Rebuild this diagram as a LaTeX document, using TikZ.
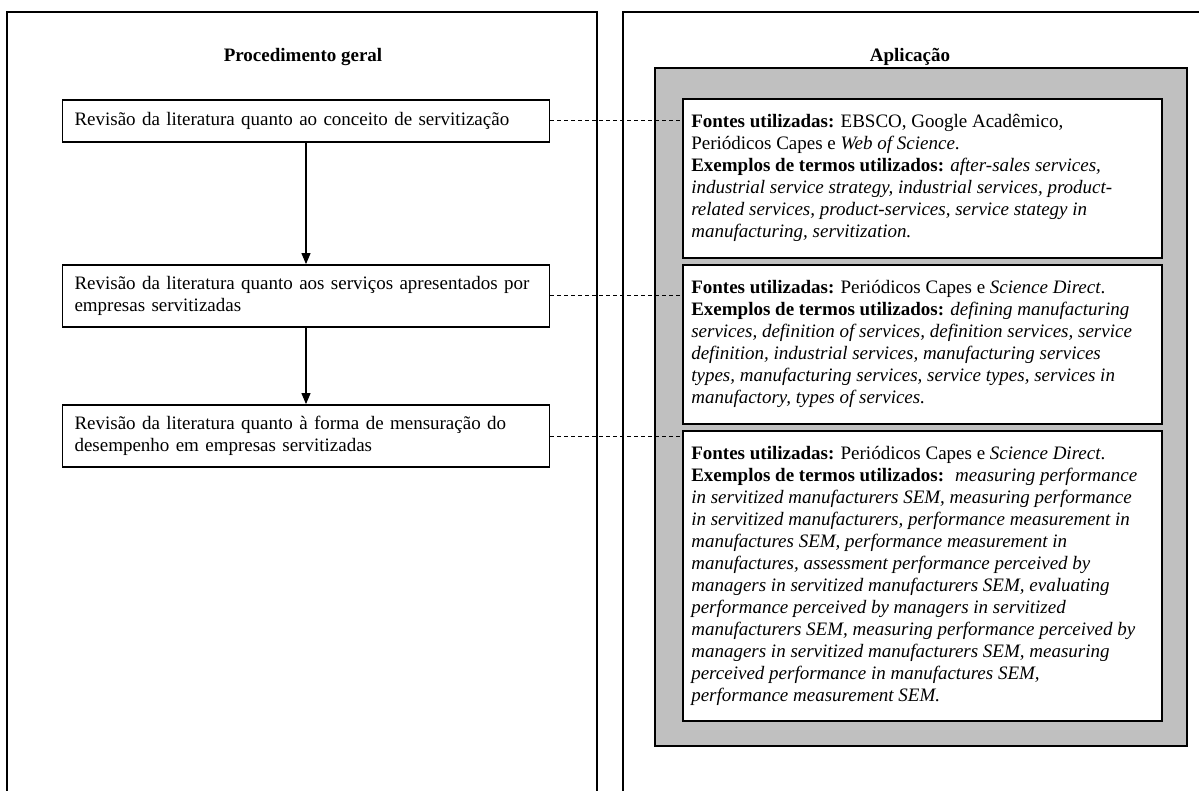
\documentclass[tikz,border=0pt]{standalone}
\usepackage{fontspec}
\setmainfont{Liberation Serif}
\usetikzlibrary{arrows.meta}
\definecolor{grayfill}{HTML}{C0C0C0}
\begin{document}
\begin{tikzpicture}[x=1pt,y=-1pt,
  font=\fontsize{19}{22}\selectfont,
  frameline/.style={line width=2.2pt},
  title/.style={font=\fontsize{19}{22}\selectfont\bfseries, inner sep=0pt},
  lbox/.style={draw, line width=1.8pt, minimum width=487pt, text width=463pt,
               align=left, inner xsep=12pt, inner ysep=0pt},
  wbox/.style={draw, line width=1.8pt, fill=white, minimum width=479pt, inner sep=0pt},
  wtext/.style={anchor=north west, inner sep=0pt, align=left},
  flow/.style={line width=1.1pt, -{Triangle[length=11pt,width=9pt]}},
  link/.style={line width=1pt, dash pattern=on 4pt off 3pt}]
\useasboundingbox (0,0) rectangle (1199,791);
\clip (0,0) rectangle (1199,791);

% outer frames (open at the bottom)
\draw[frameline] (7,800) -- (7,12) -- (597,12) -- (597,800);
\draw[frameline] (623,800) -- (623,12) -- (1210,12);

% titles
\node[title] (tl) at (303,57) {Procedimento geral};
\node[title] (tr) at (910,57) {Aplicação};

% left procedure boxes
\node[lbox, minimum height=42pt] (l1) at (306,121)
  {Revisão da literatura quanto ao conceito de servitização};
\node[lbox, minimum height=62pt] (l2) at (306,296)
  {Revisão da literatura quanto aos serviços apresentados por\\empresas servitizadas};
\node[lbox, minimum height=62pt] (l3) at (306,436)
  {Revisão da literatura quanto à forma de mensuração do\\desempenho em empresas servitizadas};

\draw[flow] (l1.south) -- (l2.north);
\draw[flow] (l2.south) -- (l3.north);

% gray container
\draw[line width=1.8pt, fill=grayfill] (655,68) rectangle (1187,746);

% white boxes
\node[wbox, minimum height=159pt] (wA) at (922.5,178.5) {};
\node[wbox, minimum height=159pt] (wB) at (922.5,344.5) {};
\node[wbox, minimum height=290pt] (wC) at (922.5,576) {};

\node[wtext] (tA) at ([xshift=9pt,yshift=-14pt]wA.north west) {\rule{0pt}{15pt}%
\textbf{Fontes utilizadas:} EBSCO, Google Acadêmico,\\
Periódicos Capes e \textit{Web of Science}.\\
\textbf{Exemplos de termos utilizados:} \textit{after-sales services,}\\
\textit{industrial service strategy, industrial services, product-}\\
\textit{related services, product-services, service stategy in}\\
\textit{manufacturing, servitization.}};

\node[wtext] (tB) at ([xshift=9pt,yshift=-14pt]wB.north west) {\rule{0pt}{15pt}%
\textbf{Fontes utilizadas:} Periódicos Capes e \textit{Science Direct}.\\
\textbf{Exemplos de termos utilizados:} \textit{defining manufacturing}\\
\textit{services, definition of services, definition services, service}\\
\textit{definition, industrial services, manufacturing services}\\
\textit{types, manufacturing services, service types, services in}\\
\textit{manufactory, types of services.}};

\node[wtext] (tC) at ([xshift=9pt,yshift=-14pt]wC.north west) {\rule{0pt}{15pt}%
\textbf{Fontes utilizadas:} Periódicos Capes e \textit{Science Direct}.\\
\textbf{Exemplos de termos utilizados:} \ \textit{measuring performance}\\
\textit{in servitized manufacturers SEM, measuring performance}\\
\textit{in servitized manufacturers, performance measurement in}\\
\textit{manufactures SEM, performance measurement in}\\
\textit{manufactures, assessment performance perceived by}\\
\textit{managers in servitized manufacturers SEM, evaluating}\\
\textit{performance perceived by managers in servitized}\\
\textit{manufacturers SEM, measuring performance perceived by}\\
\textit{managers in servitized manufacturers SEM, measuring}\\
\textit{perceived performance in manufactures SEM,}\\
\textit{performance measurement SEM.}};

% dashed links
\draw[link] (l1.east) -- (l1.east -| wA.west);
\draw[link] (l2.east) -- (l2.east -| wB.west);
\draw[link] (l3.east) -- (l3.east -| wC.west);
\end{tikzpicture}
\end{document}
